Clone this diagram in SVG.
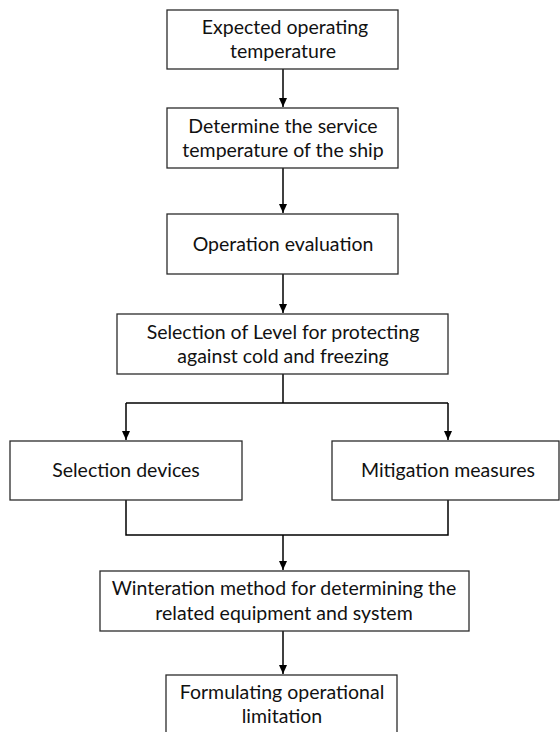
<svg xmlns="http://www.w3.org/2000/svg" width="560" height="732" viewBox="0 0 560 732">
<style>
.box{fill:#fff;stroke:#2b2b2b;stroke-width:1.3}
.t{font-family:Lato,"Open Sans","Liberation Sans",sans-serif;font-size:19.5px;fill:#111;text-anchor:middle}
.c{fill:none;stroke:#000;stroke-width:1.5}
</style>
<defs>
<marker id="ah" markerWidth="10" markerHeight="10" refX="9" refY="5" orient="auto" markerUnits="userSpaceOnUse">
<path d="M0,1 L9,5 L0,9 Z" fill="#000"/>
</marker>
</defs>
<rect width="560" height="732" fill="#fff"/>
<g id="connectors">
<line class="c" x1="283" y1="69" x2="283" y2="107" marker-end="url(#ah)"/>
<line class="c" x1="283" y1="168" x2="283" y2="213" marker-end="url(#ah)"/>
<line class="c" x1="283" y1="274" x2="283" y2="313" marker-end="url(#ah)"/>
<polyline class="c" points="283,374 283,403"/>
<polyline class="c" points="126,403 448,403"/>
<line class="c" x1="126" y1="403" x2="126" y2="440" marker-end="url(#ah)"/>
<line class="c" x1="448" y1="403" x2="448" y2="440" marker-end="url(#ah)"/>
<polyline class="c" points="126,500 126,535 448,535 448,500"/>
<line class="c" x1="283" y1="535" x2="283" y2="570" marker-end="url(#ah)"/>
<line class="c" x1="283" y1="631" x2="283" y2="674" marker-end="url(#ah)"/>
</g>
<g id="n1">
<rect class="box" x="167" y="10" width="231" height="59"/>
<text class="t" x="285" y="34">Expected operating</text>
<text class="t" x="283" y="58">temperature</text>
</g>
<g id="n2">
<rect class="box" x="167" y="108" width="231" height="60"/>
<text class="t" x="283" y="133">Determine the service</text>
<text class="t" x="283" y="157">temperature of the ship</text>
</g>
<g id="n3">
<rect class="box" x="167" y="214" width="231" height="60"/>
<text class="t" x="283" y="251">Operation evaluation</text>
</g>
<g id="n4">
<rect class="box" x="117" y="314" width="331" height="60"/>
<text class="t" x="283" y="339">Selection of Level for protecting</text>
<text class="t" x="283" y="363">against cold and freezing</text>
</g>
<g id="n5">
<rect class="box" x="10" y="441" width="232" height="59"/>
<text class="t" x="126" y="477">Selection devices</text>
</g>
<g id="n6">
<rect class="box" x="332" y="441" width="227" height="59"/>
<text class="t" x="448" y="477">Mitigation measures</text>
</g>
<g id="n7">
<rect class="box" x="100" y="571" width="369" height="60"/>
<text class="t" x="284" y="595">Winteration method for determining the</text>
<text class="t" x="284" y="620">related equipment and system</text>
</g>
<g id="n8">
<rect class="box" x="166" y="675" width="231" height="60"/>
<text class="t" x="282" y="699">Formulating operational</text>
<text class="t" x="282" y="723">limitation</text>
</g>
</svg>
